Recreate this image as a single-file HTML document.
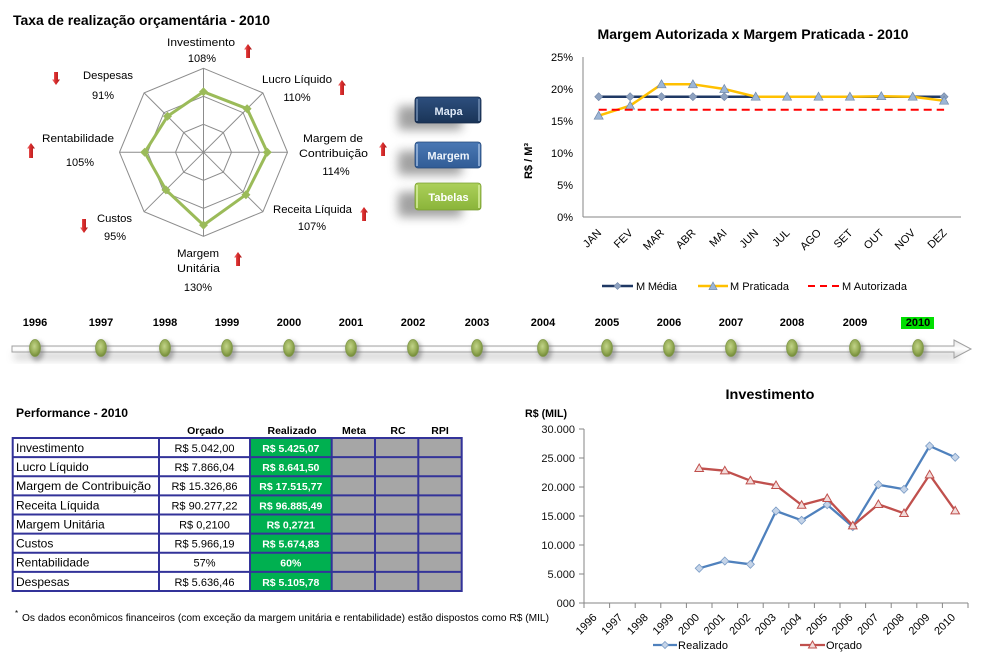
<!DOCTYPE html>
<html><head><meta charset="utf-8"><style>
html,body{margin:0;padding:0;background:#fff;}
svg{display:block;}
text{font-family:"Liberation Sans",Arial,sans-serif;}
</style></head><body>
<svg width="992" height="665" viewBox="0 0 992 665" xmlns="http://www.w3.org/2000/svg">
<defs>
<filter id="b4" x="-50%" y="-50%" width="200%" height="200%"><feGaussianBlur stdDeviation="4"/></filter>
<filter id="b5" x="-50%" y="-50%" width="200%" height="200%"><feGaussianBlur stdDeviation="5"/></filter>
<filter id="b2" x="-50%" y="-50%" width="200%" height="200%"><feGaussianBlur stdDeviation="2"/></filter>
<radialGradient id="oval" cx="45%" cy="40%" r="60%"><stop offset="0" stop-color="#c2d48a"/><stop offset="0.6" stop-color="#98ae58"/><stop offset="1" stop-color="#728a38"/></radialGradient>
<linearGradient id="arr" x1="0" x2="1" y1="0" y2="0"><stop offset="0" stop-color="#f07a7a"/><stop offset="0.45" stop-color="#d92b2b"/><stop offset="1" stop-color="#a51a1a"/></linearGradient>
<linearGradient id="bt1" x1="0" y1="0" x2="0" y2="1"><stop offset="0" stop-color="#2d4f7e"/><stop offset="1" stop-color="#1a3457"/></linearGradient>
<linearGradient id="bt2" x1="0" y1="0" x2="0" y2="1"><stop offset="0" stop-color="#4a78b4"/><stop offset="1" stop-color="#315c96"/></linearGradient>
<linearGradient id="bt3" x1="0" y1="0" x2="0" y2="1"><stop offset="0" stop-color="#acd05a"/><stop offset="1" stop-color="#8ab43a"/></linearGradient>
<linearGradient id="tl" x1="0" y1="0" x2="0" y2="1"><stop offset="0" stop-color="#e6e6e6"/><stop offset="0.5" stop-color="#ffffff"/><stop offset="1" stop-color="#d0d0d0"/></linearGradient>
</defs>

<!-- ============ RADAR ============ -->
<text x="13" y="25" font-size="14" font-weight="bold" textLength="257" lengthAdjust="spacingAndGlyphs">Taxa de realização orçamentária - 2010</text>
<g fill="none" stroke="#8c8c8c" stroke-width="1">
<polygon points="203.5,68.3 262.9,92.9 287.5,152.3 262.9,211.7 203.5,236.3 144.1,211.7 119.5,152.3 144.1,92.9"/>
<polygon points="203.5,96.3 243.1,112.7 259.5,152.3 243.1,191.9 203.5,208.3 163.9,191.9 147.5,152.3 163.9,112.7"/>
<polygon points="203.5,124.3 223.3,132.5 231.5,152.3 223.3,172.1 203.5,180.3 183.7,172.1 175.5,152.3 183.7,132.5"/>
<line x1="203.5" y1="152.3" x2="203.5" y2="68.3"/>
<line x1="203.5" y1="152.3" x2="262.9" y2="92.9"/>
<line x1="203.5" y1="152.3" x2="287.5" y2="152.3"/>
<line x1="203.5" y1="152.3" x2="262.9" y2="211.7"/>
<line x1="203.5" y1="152.3" x2="203.5" y2="236.3"/>
<line x1="203.5" y1="152.3" x2="144.1" y2="211.7"/>
<line x1="203.5" y1="152.3" x2="119.5" y2="152.3"/>
<line x1="203.5" y1="152.3" x2="144.1" y2="92.9"/>
</g>
<polygon points="203.5,91.8 247.1,108.7 267.3,152.3 245.9,194.7 203.5,225.1 165.9,189.9 144.7,152.3 167.5,116.3" fill="none" stroke="#9bbb59" stroke-width="3" stroke-linejoin="round"/>
<g fill="#9bbb59">
<path d="M203.5,87.3 L208,91.8 L203.5,96.3 L199,91.8Z"/>
<path d="M247.1,104.2 L251.6,108.7 L247.1,113.2 L242.6,108.7Z"/>
<path d="M267.3,147.8 L271.8,152.3 L267.3,156.8 L262.8,152.3Z"/>
<path d="M245.9,190.2 L250.4,194.7 L245.9,199.2 L241.4,194.7Z"/>
<path d="M203.5,220.6 L208,225.1 L203.5,229.6 L199,225.1Z"/>
<path d="M165.9,185.4 L170.4,189.9 L165.9,194.4 L161.4,189.9Z"/>
<path d="M144.7,147.8 L149.2,152.3 L144.7,156.8 L140.2,152.3Z"/>
<path d="M167.5,111.8 L172,116.3 L167.5,120.8 L163,116.3Z"/>
</g>
<g font-size="11" text-anchor="middle" fill="#000">
<text x="201" y="46" textLength="68" lengthAdjust="spacingAndGlyphs">Investimento</text>
<text x="202" y="62">108%</text>
<text x="297" y="83" textLength="70" lengthAdjust="spacingAndGlyphs">Lucro Líquido</text>
<text x="297" y="101">110%</text>
<text x="333" y="142" textLength="60" lengthAdjust="spacingAndGlyphs">Margem de</text>
<text x="333.5" y="157" textLength="69" lengthAdjust="spacingAndGlyphs">Contribuição</text>
<text x="336" y="175">114%</text>
<text x="312.5" y="213" textLength="79" lengthAdjust="spacingAndGlyphs">Receita Líquida</text>
<text x="312" y="230">107%</text>
<text x="198" y="257" textLength="42" lengthAdjust="spacingAndGlyphs">Margem</text>
<text x="198.5" y="272" textLength="43" lengthAdjust="spacingAndGlyphs">Unitária</text>
<text x="198" y="291">130%</text>
<text x="114.5" y="222" textLength="35" lengthAdjust="spacingAndGlyphs">Custos</text>
<text x="115" y="240">95%</text>
<text x="78" y="142" textLength="72" lengthAdjust="spacingAndGlyphs">Rentabilidade</text>
<text x="80" y="166">105%</text>
<text x="108" y="79" textLength="50" lengthAdjust="spacingAndGlyphs">Despesas</text>
<text x="103" y="99">91%</text>
</g>
<!-- arrows -->
<g fill="url(#arr)">
<path d="M248,44 L252,49.5 L250,49.5 L250,58 L246,58 L246,49.5 L244,49.5Z"/>
<path d="M342,80 L346,85.5 L344,85.5 L344,95 L340,95 L340,85.5 L338,85.5Z"/>
<path d="M383,142 L387,147.5 L385,147.5 L385,156 L381,156 L381,147.5 L379,147.5Z"/>
<path d="M364,207 L368,212.5 L366,212.5 L366,221 L362,221 L362,212.5 L360,212.5Z"/>
<path d="M238,252 L242,257.5 L240,257.5 L240,266 L236,266 L236,257.5 L234,257.5Z"/>
<path d="M31,143 L35,148.5 L33,148.5 L33,158 L29,158 L29,148.5 L27,148.5Z"/>
<path d="M84,233 L88,227.5 L86,227.5 L86,219 L82,219 L82,227.5 L80,227.5Z"/>
<path d="M56,85 L60,79.5 L58,79.5 L58,72 L54,72 L54,79.5 L52,79.5Z"/>
</g>

<!-- ============ BUTTONS ============ -->
<g filter="url(#b5)" fill="#7a7a7a" opacity="0.7">
<rect x="398" y="106" width="64" height="24" rx="3"/>
<rect x="398" y="151" width="64" height="24" rx="3"/>
<rect x="398" y="192" width="64" height="25" rx="3"/>
</g>
<rect x="415" y="97" width="66" height="26" rx="3" fill="url(#bt1)" stroke="#14294a" stroke-width="0.8"/>
<rect x="416" y="99" width="2" height="22" fill="#6d88ad" opacity="0.8"/>
<rect x="478" y="99" width="2" height="22" fill="#6d88ad" opacity="0.8"/>
<rect x="415" y="142" width="66" height="26" rx="3" fill="url(#bt2)" stroke="#24487a" stroke-width="0.8"/>
<rect x="416" y="144" width="2" height="22" fill="#9ab6dc" opacity="0.8"/>
<rect x="478" y="144" width="2" height="22" fill="#9ab6dc" opacity="0.8"/>
<rect x="415" y="183" width="66" height="27" rx="3" fill="url(#bt3)" stroke="#7a9e32" stroke-width="0.8"/>
<rect x="416" y="185" width="2" height="23" fill="#d4ec9a" opacity="0.8"/>
<rect x="478" y="185" width="2" height="23" fill="#d4ec9a" opacity="0.8"/>
<g font-size="11" font-weight="bold" text-anchor="middle">
<text x="448.5" y="115" fill="#dde8f6">Mapa</text>
<text x="448.5" y="159.5" fill="#eef4fb">Margem</text>
<text x="448.5" y="201" fill="#ffffff">Tabelas</text>
</g>

<!-- ============ TOP RIGHT CHART ============ -->
<text x="753" y="39" font-size="14" font-weight="bold" text-anchor="middle" textLength="311" lengthAdjust="spacingAndGlyphs">Margem Autorizada x Margem Praticada - 2010</text>
<g font-size="11" text-anchor="end" fill="#000">
<text x="573" y="61">25%</text>
<text x="573" y="93">20%</text>
<text x="573" y="125">15%</text>
<text x="573" y="157">10%</text>
<text x="573" y="189">5%</text>
<text x="573" y="221">0%</text>
</g>
<text transform="translate(532,161) rotate(-90)" font-size="11" font-weight="bold" text-anchor="middle">R$ / M³</text>
<line x1="583" y1="57" x2="583" y2="217" stroke="#868686" stroke-width="1"/>
<line x1="583" y1="217" x2="961" y2="217" stroke="#868686" stroke-width="1"/>
<!-- Media -->
<line x1="598.7" y1="96.7" x2="944.1" y2="96.7" stroke="#1f3864" stroke-width="2.5"/>
<g fill="#8ea2c0" stroke="#6f84a6" stroke-width="0.6">
<path d="M598.7,92.7 L602.7,96.7 L598.7,100.7 L594.7,96.7Z"/>
<path d="M630.1,92.7 L634.1,96.7 L630.1,100.7 L626.1,96.7Z"/>
<path d="M661.5,92.7 L665.5,96.7 L661.5,100.7 L657.5,96.7Z"/>
<path d="M692.9,92.7 L696.9,96.7 L692.9,100.7 L688.9,96.7Z"/>
<path d="M724.3,92.7 L728.3,96.7 L724.3,100.7 L720.3,96.7Z"/>
<path d="M944.1,92.7 L948.1,96.7 L944.1,100.7 L940.1,96.7Z"/>
</g>
<!-- Praticada -->
<polyline points="598.7,115.7 630.1,105.7 661.5,84.3 692.9,84.3 724.3,89 755.7,96.7 787.1,96.7 818.5,96.7 849.9,96.7 881.3,96.2 912.7,96.7 944.1,100.7" fill="none" stroke="#ffc000" stroke-width="2.5" stroke-linejoin="round"/>
<g fill="#9cb6d6" stroke="#6f88aa" stroke-width="0.7">
<path d="M598.7,111.2 L603.2,119.2 L594.2,119.2Z"/>
<path d="M630.1,101.2 L634.6,109.2 L625.6,109.2Z"/>
<path d="M661.5,79.8 L666,87.8 L657,87.8Z"/>
<path d="M692.9,79.8 L697.4,87.8 L688.4,87.8Z"/>
<path d="M724.3,84.5 L728.8,92.5 L719.8,92.5Z"/>
<path d="M755.7,92.2 L760.2,100.2 L751.2,100.2Z"/>
<path d="M787.1,92.2 L791.6,100.2 L782.6,100.2Z"/>
<path d="M818.5,92.2 L823,100.2 L814,100.2Z"/>
<path d="M849.9,92.2 L854.4,100.2 L845.4,100.2Z"/>
<path d="M881.3,91.7 L885.8,99.7 L876.8,99.7Z"/>
<path d="M912.7,92.2 L917.2,100.2 L908.2,100.2Z"/>
<path d="M944.1,96.2 L948.6,104.2 L939.6,104.2Z"/>
</g>
<!-- Autorizada -->
<line x1="598.7" y1="109.7" x2="944.1" y2="109.7" stroke="#ff0000" stroke-width="2" stroke-dasharray="8,5"/>
<g font-size="11" fill="#000" text-anchor="end">
<text transform="translate(602,233.5) rotate(-45)">JAN</text>
<text transform="translate(633.4,233.5) rotate(-45)">FEV</text>
<text transform="translate(664.8,233.5) rotate(-45)">MAR</text>
<text transform="translate(696.2,233.5) rotate(-45)">ABR</text>
<text transform="translate(727.6,233.5) rotate(-45)">MAI</text>
<text transform="translate(759,233.5) rotate(-45)">JUN</text>
<text transform="translate(790.4,233.5) rotate(-45)">JUL</text>
<text transform="translate(821.8,233.5) rotate(-45)">AGO</text>
<text transform="translate(853.2,233.5) rotate(-45)">SET</text>
<text transform="translate(884.6,233.5) rotate(-45)">OUT</text>
<text transform="translate(916,233.5) rotate(-45)">NOV</text>
<text transform="translate(947.4,233.5) rotate(-45)">DEZ</text>
</g>
<!-- legend -->
<line x1="602" y1="286" x2="633" y2="286" stroke="#1f3864" stroke-width="2.5"/>
<path d="M617.5,282.5 L621,286 L617.5,289.5 L614,286Z" fill="#8ea2c0" stroke="#6f84a6" stroke-width="0.6"/>
<line x1="698" y1="286" x2="728" y2="286" stroke="#ffc000" stroke-width="2.5"/>
<path d="M713,282 L717,289.5 L709,289.5Z" fill="#9cb6d6" stroke="#6f88aa" stroke-width="0.7"/>
<line x1="808" y1="286" x2="839" y2="286" stroke="#ff0000" stroke-width="2" stroke-dasharray="7,5"/>
<g font-size="11" fill="#000">
<text x="636" y="290" textLength="41" lengthAdjust="spacing">M  Média</text>
<text x="730" y="290" textLength="59" lengthAdjust="spacing">M  Praticada</text>
<text x="842" y="290" textLength="65" lengthAdjust="spacing">M  Autorizada</text>
</g>

<!-- ============ TIMELINE ============ -->
<rect x="14" y="352" width="944" height="8" fill="#9a9a9a" opacity="0.4" filter="url(#b4)"/>
<path d="M12,346 L954,346 L954,340 L971,349 L954,358 L954,352 L12,352Z" fill="url(#tl)" stroke="#a0a0a0" stroke-width="1"/>
<rect x="901" y="317" width="33" height="12" fill="#00e000"/>
<g font-size="11" font-weight="bold" text-anchor="middle" fill="#000">
<text x="35" y="326">1996</text>
<text x="101" y="326">1997</text>
<text x="165" y="326">1998</text>
<text x="227" y="326">1999</text>
<text x="289" y="326">2000</text>
<text x="351" y="326">2001</text>
<text x="413" y="326">2002</text>
<text x="477" y="326">2003</text>
<text x="543" y="326">2004</text>
<text x="607" y="326">2005</text>
<text x="669" y="326">2006</text>
<text x="731" y="326">2007</text>
<text x="792" y="326">2008</text>
<text x="855" y="326">2009</text>
<text x="918" y="326">2010</text>
</g>
<g fill="#6c6c6c" opacity="0.5" filter="url(#b2)">
<ellipse cx="37" cy="351" rx="7" ry="10"/><ellipse cx="103" cy="351" rx="7" ry="10"/><ellipse cx="167" cy="351" rx="7" ry="10"/><ellipse cx="229" cy="351" rx="7" ry="10"/><ellipse cx="291" cy="351" rx="7" ry="10"/><ellipse cx="353" cy="351" rx="7" ry="10"/><ellipse cx="415" cy="351" rx="7" ry="10"/><ellipse cx="479" cy="351" rx="7" ry="10"/><ellipse cx="545" cy="351" rx="7" ry="10"/><ellipse cx="609" cy="351" rx="7" ry="10"/><ellipse cx="671" cy="351" rx="7" ry="10"/><ellipse cx="733" cy="351" rx="7" ry="10"/><ellipse cx="794" cy="351" rx="7" ry="10"/><ellipse cx="857" cy="351" rx="7" ry="10"/><ellipse cx="920" cy="351" rx="7" ry="10"/>
</g>
<g fill="url(#oval)" stroke="#80994a" stroke-width="0.7">
<ellipse cx="35" cy="348" rx="5.5" ry="8.5"/><ellipse cx="101" cy="348" rx="5.5" ry="8.5"/><ellipse cx="165" cy="348" rx="5.5" ry="8.5"/><ellipse cx="227" cy="348" rx="5.5" ry="8.5"/><ellipse cx="289" cy="348" rx="5.5" ry="8.5"/><ellipse cx="351" cy="348" rx="5.5" ry="8.5"/><ellipse cx="413" cy="348" rx="5.5" ry="8.5"/><ellipse cx="477" cy="348" rx="5.5" ry="8.5"/><ellipse cx="543" cy="348" rx="5.5" ry="8.5"/><ellipse cx="607" cy="348" rx="5.5" ry="8.5"/><ellipse cx="669" cy="348" rx="5.5" ry="8.5"/><ellipse cx="731" cy="348" rx="5.5" ry="8.5"/><ellipse cx="792" cy="348" rx="5.5" ry="8.5"/><ellipse cx="855" cy="348" rx="5.5" ry="8.5"/><ellipse cx="918" cy="348" rx="5.5" ry="8.5"/>
</g>

<!-- ============ TABLE ============ -->
<text x="16" y="417" font-size="12" font-weight="bold" textLength="112" lengthAdjust="spacingAndGlyphs">Performance - 2010</text>
<g font-size="10.5" font-weight="bold" text-anchor="middle">
<text x="205.5" y="434">Orçado</text>
<text x="292" y="434">Realizado</text>
<text x="354" y="434">Meta</text>
<text x="398" y="434">RC</text>
<text x="440" y="434">RPI</text>
</g>
<rect x="250" y="438" width="81.7" height="153" fill="#00b050"/>
<rect x="331.7" y="438" width="130" height="153" fill="#a6a6a6"/>
<g stroke="#333399" stroke-width="2" fill="none">
<rect x="12.7" y="438" width="449" height="153"/>
<line x1="159" y1="438" x2="159" y2="591"/>
<line x1="250" y1="438" x2="250" y2="591"/>
<line x1="331.7" y1="438" x2="331.7" y2="591"/>
<line x1="375" y1="438" x2="375" y2="591"/>
<line x1="418.3" y1="438" x2="418.3" y2="591"/>
<line x1="12.7" y1="457.1" x2="461.7" y2="457.1"/>
<line x1="12.7" y1="476.3" x2="461.7" y2="476.3"/>
<line x1="12.7" y1="495.4" x2="461.7" y2="495.4"/>
<line x1="12.7" y1="514.5" x2="461.7" y2="514.5"/>
<line x1="12.7" y1="533.6" x2="461.7" y2="533.6"/>
<line x1="12.7" y1="552.8" x2="461.7" y2="552.8"/>
<line x1="12.7" y1="571.9" x2="461.7" y2="571.9"/>
</g>
<g font-size="12" fill="#000">
<text x="16" y="452">Investimento</text>
<text x="16" y="471">Lucro Líquido</text>
<text x="16" y="490" textLength="135" lengthAdjust="spacingAndGlyphs">Margem de Contribuição</text>
<text x="16" y="509.5">Receita Líquida</text>
<text x="16" y="528.5">Margem Unitária</text>
<text x="16" y="547.5">Custos</text>
<text x="16" y="566.5">Rentabilidade</text>
<text x="16" y="586">Despesas</text>
</g>
<g font-size="11" fill="#000" text-anchor="middle">
<text x="204.5" y="452">R$ 5.042,00</text>
<text x="204.5" y="471">R$ 7.866,04</text>
<text x="204.5" y="490">R$ 15.326,86</text>
<text x="204.5" y="509.5">R$ 90.277,22</text>
<text x="204.5" y="528.5">R$ 0,2100</text>
<text x="204.5" y="547.5">R$ 5.966,19</text>
<text x="204.5" y="566.5">57%</text>
<text x="204.5" y="586">R$ 5.636,46</text>
</g>
<g font-size="10.5" font-weight="bold" fill="#ffffff" text-anchor="middle">
<text x="290.8" y="452">R$ 5.425,07</text>
<text x="290.8" y="471">R$ 8.641,50</text>
<text x="290.8" y="490">R$ 17.515,77</text>
<text x="290.8" y="509.5">R$ 96.885,49</text>
<text x="290.8" y="528.5">R$ 0,2721</text>
<text x="290.8" y="547.5">R$ 5.674,83</text>
<text x="290.8" y="566.5">60%</text>
<text x="290.8" y="586">R$ 5.105,78</text>
</g>
<text x="15" y="616" font-size="8">*</text>
<text x="22" y="621" font-size="10" textLength="527" lengthAdjust="spacingAndGlyphs">Os dados econômicos financeiros (com exceção da margem unitária e rentabilidade) estão dispostos como R$ (MIL)</text>

<!-- ============ INVESTIMENTO CHART ============ -->
<text x="770" y="399" font-size="14" font-weight="bold" text-anchor="middle" textLength="89" lengthAdjust="spacingAndGlyphs">Investimento</text>
<text x="525" y="417" font-size="11" font-weight="bold" textLength="42" lengthAdjust="spacingAndGlyphs">R$ (MIL)</text>
<g font-size="11" fill="#111" text-anchor="end">
<text x="575" y="433">30.000</text>
<text x="575" y="462">25.000</text>
<text x="575" y="491">20.000</text>
<text x="575" y="520">15.000</text>
<text x="575" y="549">10.000</text>
<text x="575" y="578">5.000</text>
<text x="575" y="607">000</text>
</g>
<g stroke="#868686" stroke-width="1">
<line x1="584" y1="429" x2="584" y2="603"/>
<line x1="584" y1="603" x2="968" y2="603"/>
<line x1="579" y1="429" x2="584" y2="429"/>
<line x1="579" y1="458" x2="584" y2="458"/>
<line x1="579" y1="487" x2="584" y2="487"/>
<line x1="579" y1="516" x2="584" y2="516"/>
<line x1="579" y1="545" x2="584" y2="545"/>
<line x1="579" y1="574" x2="584" y2="574"/>
<line x1="579" y1="603" x2="584" y2="603"/>
<line x1="584" y1="603" x2="584" y2="608"/>
<line x1="609.6" y1="603" x2="609.6" y2="608"/>
<line x1="635.2" y1="603" x2="635.2" y2="608"/>
<line x1="660.8" y1="603" x2="660.8" y2="608"/>
<line x1="686.4" y1="603" x2="686.4" y2="608"/>
<line x1="712" y1="603" x2="712" y2="608"/>
<line x1="737.6" y1="603" x2="737.6" y2="608"/>
<line x1="763.2" y1="603" x2="763.2" y2="608"/>
<line x1="788.8" y1="603" x2="788.8" y2="608"/>
<line x1="814.4" y1="603" x2="814.4" y2="608"/>
<line x1="840" y1="603" x2="840" y2="608"/>
<line x1="865.6" y1="603" x2="865.6" y2="608"/>
<line x1="891.2" y1="603" x2="891.2" y2="608"/>
<line x1="916.8" y1="603" x2="916.8" y2="608"/>
<line x1="942.4" y1="603" x2="942.4" y2="608"/>
<line x1="968" y1="603" x2="968" y2="608"/>
</g>
<g font-size="11" fill="#000" text-anchor="end">
<text transform="translate(597.5,618) rotate(-45)">1996</text>
<text transform="translate(623.1,618) rotate(-45)">1997</text>
<text transform="translate(648.7,618) rotate(-45)">1998</text>
<text transform="translate(674.3,618) rotate(-45)">1999</text>
<text transform="translate(699.9,618) rotate(-45)">2000</text>
<text transform="translate(725.5,618) rotate(-45)">2001</text>
<text transform="translate(751.1,618) rotate(-45)">2002</text>
<text transform="translate(776.7,618) rotate(-45)">2003</text>
<text transform="translate(802.3,618) rotate(-45)">2004</text>
<text transform="translate(827.9,618) rotate(-45)">2005</text>
<text transform="translate(853.5,618) rotate(-45)">2006</text>
<text transform="translate(879.1,618) rotate(-45)">2007</text>
<text transform="translate(904.7,618) rotate(-45)">2008</text>
<text transform="translate(930.3,618) rotate(-45)">2009</text>
<text transform="translate(955.9,618) rotate(-45)">2010</text>
</g>
<!-- Realizado -->
<polyline points="699.2,568.3 724.8,561 750.4,564.3 776,511 801.6,520.3 827.2,504.7 852.8,526.7 878.4,484.7 904,489.3 929.6,446 955.2,457.3" fill="none" stroke="#4f81bd" stroke-width="2.3" stroke-linejoin="round"/>
<g fill="#c5d4e8" stroke="#7b9cc6" stroke-width="0.8">
<path d="M699.2,564.3 L703.2,568.3 L699.2,572.3 L695.2,568.3Z"/>
<path d="M724.8,557 L728.8,561 L724.8,565 L720.8,561Z"/>
<path d="M750.4,560.3 L754.4,564.3 L750.4,568.3 L746.4,564.3Z"/>
<path d="M776,507 L780,511 L776,515 L772,511Z"/>
<path d="M801.6,516.3 L805.6,520.3 L801.6,524.3 L797.6,520.3Z"/>
<path d="M827.2,500.7 L831.2,504.7 L827.2,508.7 L823.2,504.7Z"/>
<path d="M852.8,522.7 L856.8,526.7 L852.8,530.7 L848.8,526.7Z"/>
<path d="M878.4,480.7 L882.4,484.7 L878.4,488.7 L874.4,484.7Z"/>
<path d="M904,485.3 L908,489.3 L904,493.3 L900,489.3Z"/>
<path d="M929.6,442 L933.6,446 L929.6,450 L925.6,446Z"/>
<path d="M955.2,453.3 L959.2,457.3 L955.2,461.3 L951.2,457.3Z"/>
</g>
<!-- Orçado -->
<polyline points="699.2,468.3 724.8,470.7 750.4,480.7 776,485.3 801.6,505 827.2,498.3 852.8,525.7 878.4,504.3 904,513.3 929.6,474.7 955.2,510.7" fill="none" stroke="#c0504d" stroke-width="2.3" stroke-linejoin="round"/>
<g fill="#f2dcdb" stroke="#c0504d" stroke-width="1">
<path d="M699.2,464 L703.5,471.5 L694.9,471.5Z"/>
<path d="M724.8,466.4 L729.1,473.9 L720.5,473.9Z"/>
<path d="M750.4,476.4 L754.7,483.9 L746.1,483.9Z"/>
<path d="M776,481 L780.3,488.5 L771.7,488.5Z"/>
<path d="M801.6,500.7 L805.9,508.2 L797.3,508.2Z"/>
<path d="M827.2,494 L831.5,501.5 L822.9,501.5Z"/>
<path d="M852.8,521.4 L857.1,528.9 L848.5,528.9Z"/>
<path d="M878.4,500 L882.7,507.5 L874.1,507.5Z"/>
<path d="M904,509 L908.3,516.5 L899.7,516.5Z"/>
<path d="M929.6,470.4 L933.9,477.9 L925.3,477.9Z"/>
<path d="M955.2,506.4 L959.5,513.9 L950.9,513.9Z"/>
</g>
<!-- legend -->
<line x1="653" y1="645" x2="677" y2="645" stroke="#4f81bd" stroke-width="2.3"/>
<path d="M665,641.5 L668.5,645 L665,648.5 L661.5,645Z" fill="#c5d4e8" stroke="#7b9cc6" stroke-width="0.8"/>
<line x1="800" y1="645" x2="825" y2="645" stroke="#c0504d" stroke-width="2.3"/>
<path d="M812.5,641 L816.5,648 L808.5,648Z" fill="#f2dcdb" stroke="#c0504d" stroke-width="1"/>
<g font-size="11" fill="#000">
<text x="678" y="649" textLength="50" lengthAdjust="spacing">Realizado</text>
<text x="826" y="649" textLength="36" lengthAdjust="spacing">Orçado</text>
</g>
</svg>
</body></html>
